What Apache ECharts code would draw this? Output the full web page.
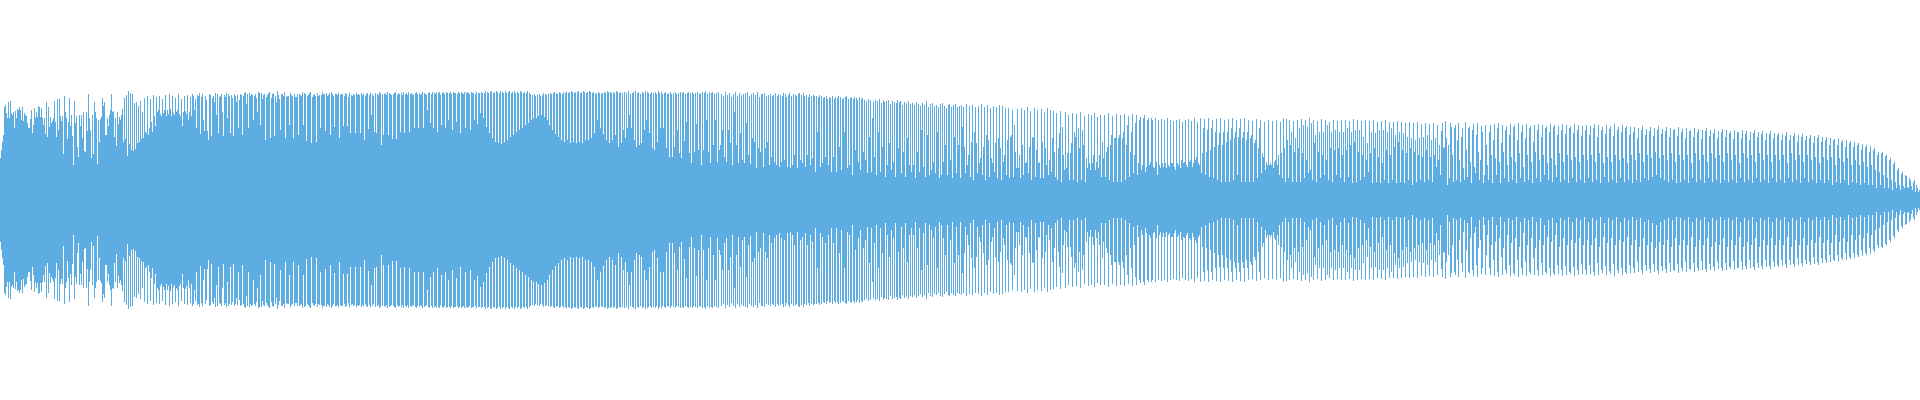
<!DOCTYPE html>
<html>
<head>
<meta charset="utf-8">
<title>Waveform</title>
<script src="https://cdn.jsdelivr.net/npm/echarts@6/dist/echarts.min.js"></script>
<style>
    html, body { margin: 0; padding: 0; background: #ffffff; }
    #chart { width: 1920px; height: 400px; }
</style>
</head>
<body>
<div id="chart"></div>
<script>
    // peak amplitude of every sample column (480 columns per part)
    const ampPart1 = [
        42,50,58,65,93,95,87,82,98,82,99,87,85,88,72,89,82,91,90,93,90,80,93,79,87,85,84,77,72,72,81,90,67,75,92,82,88,83,94,93,83,92,82,75,82,66,98,63,
        93,73,83,77,79,82,99,78,63,101,70,101,84,79,84,46,104,88,82,61,78,102,74,85,64,35,99,77,84,53,43,85,74,85,62,88,49,48,88,69,106,82,70,42,85,46,98,88,
        82,36,80,58,81,83,102,94,98,65,65,82,74,85,90,106,88,89,63,82,54,88,76,83,80,85,91,58,102,61,105,44,109,56,107,50,106,49,97,51,98,57,94,58,99,61,88,62,
        102,68,67,104,65,72,101,78,68,105,84,74,103,88,90,104,86,84,101,87,90,105,84,90,86,106,91,84,104,87,85,102,88,90,106,86,84,101,74,88,104,89,86,105,80,88,103,84,
        106,104,90,101,72,105,104,107,66,103,106,80,69,104,100,69,60,106,105,64,102,104,98,107,85,106,67,103,104,106,88,64,105,103,107,82,106,104,67,105,102,64,106,104,98,105,72,100,
        106,105,65,104,107,108,96,106,72,107,104,106,105,80,104,106,102,88,108,107,75,107,101,105,106,60,103,105,107,108,62,102,106,107,64,104,98,109,105,101,70,106,106,104,108,62,103,104,
        104,75,107,105,104,62,106,103,103,106,65,106,105,104,108,75,107,106,59,104,105,107,108,57,103,105,106,104,58,107,104,105,72,105,108,106,106,69,107,104,105,107,65,108,106,104,73,106,
        106,105,107,62,105,106,106,74,104,107,106,74,103,107,67,105,104,106,105,67,107,105,106,105,67,107,105,106,60,104,106,107,71,105,107,85,106,104,68,107,67,106,105,108,107,55,106,65,
        106,107,105,108,65,107,106,105,61,106,107,108,61,105,107,106,68,107,105,108,67,106,107,105,108,68,106,107,105,106,72,107,108,106,72,107,105,106,108,72,107,106,105,90,107,108,77,106,
        108,72,107,106,108,68,107,108,105,75,107,108,106,72,108,107,80,107,108,106,70,108,107,107,78,106,108,107,67,108,107,106,108,72,107,108,107,106,70,108,107,107,80,106,108,76,107,107
    ];
    const ampPart2 = [
        87,108,107,82,107,109,73,108,107,67,108,109,62,107,108,58,109,108,57,107,109,56,108,107,58,109,107,60,108,109,63,107,108,65,109,107,68,108,107,70,109,108,72,107,108,75,107,109,
        77,107,106,80,105,82,106,104,82,105,84,106,104,85,105,107,83,106,105,80,106,75,107,106,70,107,108,66,107,106,63,108,107,60,106,108,58,107,108,60,107,108,57,109,108,58,107,108,
        57,108,109,58,107,108,57,109,108,60,107,108,60,109,108,62,107,108,67,106,107,80,108,107,72,106,107,66,108,107,60,109,108,57,108,107,60,108,107,65,109,108,53,107,108,57,107,70,
        108,62,107,72,109,85,106,72,107,108,60,109,53,107,108,55,106,57,108,107,70,109,80,108,107,67,106,108,52,107,50,108,106,58,109,107,72,108,106,72,107,108,52,106,107,43,108,106,
        43,107,53,108,106,70,107,47,108,42,107,108,59,106,78,107,108,47,107,37,108,106,48,107,76,108,50,106,107,35,108,50,107,109,80,106,48,108,37,107,108,55,106,80,107,38,108,50,
        55,106,70,104,43,108,38,105,70,107,57,103,35,106,88,108,55,104,37,107,67,105,40,106,37,107,77,108,45,104,36,106,62,107,58,105,32,108,52,103,48,106,106,33,107,52,104,58,
        105,35,106,43,104,105,38,107,35,104,106,33,105,38,104,107,40,106,103,33,105,107,32,104,35,106,45,105,104,32,106,107,40,105,37,107,104,33,105,45,103,106,35,104,42,105,104,28,
        104,68,103,105,33,104,37,102,103,43,104,101,35,103,102,28,104,43,101,103,28,102,104,53,103,30,101,102,68,103,104,32,101,35,102,103,25,101,103,50,102,100,38,103,30,101,102,48,
        100,40,99,27,101,63,100,28,82,98,43,100,25,99,68,101,28,97,53,100,98,23,99,35,100,57,96,30,99,38,98,23,97,100,52,98,99,27,95,48,98,23,97,62,99,35,96,28,
        97,35,95,22,98,48,96,28,94,70,97,33,95,23,99,65,93,25,96,30,97,38,94,27,95,68,93,22,96,25,97,38,94,55,92,25,95,96,40,93,22,95,63,96,27,93,55,94
    ];
    const ampPart3 = [
        22,95,73,93,53,27,96,35,45,94,23,58,95,20,68,93,57,27,94,37,42,96,25,53,93,20,65,95,60,23,92,42,37,94,28,57,93,22,62,95,52,20,94,38,45,92,25,60,
        92,22,63,65,90,23,75,48,32,91,32,45,22,92,55,25,90,37,38,93,27,53,89,20,63,62,92,23,50,90,37,38,22,91,58,22,88,52,35,92,25,40,90,28,62,89,48,23,
        87,20,52,67,89,18,73,45,30,88,32,47,85,20,47,57,87,20,68,63,86,18,72,52,88,20,70,55,84,18,42,32,86,37,30,85,37,45,87,30,38,83,32,45,85,23,58,42,
        85,23,48,53,87,20,55,65,84,18,62,62,86,18,62,65,85,18,62,68,86,20,55,75,84,23,48,68,86,27,45,77,85,25,37,80,83,30,35,82,85,28,33,80,82,35,38,82,
        80,33,32,82,38,25,80,35,32,81,37,33,80,37,32,82,35,33,80,37,37,79,33,30,80,37,35,81,32,40,78,37,38,80,35,33,81,38,40,79,33,37,82,40,43,78,37,35,
        82,27,47,72,81,25,48,70,82,23,50,72,80,22,53,68,81,20,55,67,82,18,55,68,80,18,58,68,81,18,60,72,82,20,62,68,80,25,63,72,81,18,62,68,82,18,60,68,
        80,18,62,65,79,18,57,60,81,22,52,72,80,27,47,43,78,30,38,35,80,35,37,35,79,32,38,40,80,35,45,25,78,47,22,82,52,18,81,60,22,80,55,68,18,79,48,62,
        18,80,52,72,18,81,47,75,22,80,40,73,27,82,30,77,20,80,57,65,18,79,48,68,22,81,45,68,25,80,40,75,20,78,52,68,18,80,50,70,25,79,52,68,22,80,45,68,
        18,80,50,72,23,79,55,68,17,81,58,70,18,80,48,70,20,79,45,63,23,80,40,57,28,79,47,68,17,80,52,67,18,78,43,70,17,79,37,70,20,80,50,68,17,78,45,72,
        20,78,53,65,17,79,58,68,18,78,50,67,17,77,47,63,20,78,52,62,15,77,48,60,18,78,45,62,20,76,43,63,18,77,50,65,20,76,43,60,18,77,45,62,33,75,40,55
    ];
    const ampPart4 = [
        25,69,77,52,53,79,62,15,55,22,77,73,45,18,72,75,20,60,77,40,18,63,72,32,20,78,50,23,72,73,38,17,70,76,33,27,65,77,48,20,40,74,68,17,25,75,55,35,
        20,68,75,45,17,60,76,42,25,72,77,38,17,57,75,48,22,70,74,35,18,65,76,43,20,73,75,38,17,60,77,47,22,68,75,33,18,62,76,45,20,72,74,38,17,58,75,48,
        22,70,76,40,18,63,75,45,25,72,74,37,20,68,76,42,18,73,75,35,23,65,74,47,18,70,76,38,20,66,75,45,17,72,74,40,22,67,76,43,18,70,75,38,20,64,74,45,
        17,70,75,40,22,65,74,45,18,72,76,38,20,63,75,47,17,70,73,37,23,66,75,43,18,71,74,38,20,64,76,45,17,70,73,40,22,68,75,42,18,72,74,37,20,65,73,45,
        17,68,73,40,20,62,72,47,18,70,74,38,22,65,71,45,20,69,73,42,23,64,72,48,25,70,74,42,22,66,71,45,20,69,73,40,18,63,72,47,20,70,71,38,17,64,73,45,
        18,68,71,40,20,62,72,45,17,69,70,37,22,63,72,47,18,68,71,40,20,61,70,45,17,69,72,38,22,64,70,47,18,67,71,42,20,62,69,45,17,68,71,38,20,63,70,47,
        18,67,69,40,20,61,70,45,17,68,68,37,22,62,70,47,18,66,69,42,20,60,68,45,17,67,70,38,22,63,68,47,18,66,69,40,20,60,67,45,17,66,69,38,22,62,67,45,
        18,65,67,40,20,60,66,45,17,64,68,37,22,60,65,47,18,64,67,40,20,58,65,45,17,63,66,38,22,60,64,45,18,62,65,40,20,57,64,43,17,62,65,37,20,58,63,43,
        17,60,63,40,20,55,62,43,15,60,61,35,18,55,62,42,17,58,60,38,20,53,60,42,15,57,59,35,18,53,58,40,17,55,57,35,15,50,56,38,17,53,55,33,15,48,54,35,
        15,50,52,30,12,45,48,28,15,47,48,25,12,44,45,22,12,40,42,20,10,36,38,18,12,30,32,15,10,26,28,14,12,25,24,13,12,22,20,14,10,18,20,8,15,12,8,10
    ];
    const yLimit = 200;
    const waveColor = '#5dade2';

    const amp = ampPart1.concat(ampPart2, ampPart3, ampPart4);
    const samples = amp.map((v, i) => i);

    let CHART = echarts.init(document.getElementById('chart'));
    CHART.setOption({
        animation: false,
        backgroundColor: '#ffffff',
        grid: {
            left: 0,
            right: 0,
            top: 0,
            bottom: 0
        },
        xAxis: {
            type: 'category',
            data: samples,
            show: false
        },
        yAxis: {
            type: 'value',
            min: -yLimit,
            max: yLimit,
            show: false
        },
        series: [
            {
                name: 'upper',
                type: 'bar',
                data: amp,
                barCategoryGap: '0%',
                barGap: '-100%',
                silent: true,
                itemStyle: { color: waveColor }
            },
            {
                name: 'lower',
                type: 'bar',
                data: amp.map(v => -v), // mirror below the centre line
                barCategoryGap: '0%',
                barGap: '-100%',
                silent: true,
                itemStyle: { color: waveColor }
            }
        ]
    });
</script>
</body>
</html>
